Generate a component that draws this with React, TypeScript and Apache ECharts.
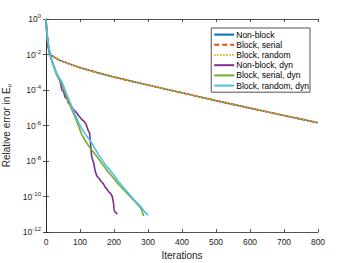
import React, { useEffect, useRef } from "react";
import * as echarts from "echarts";

// Upper curves (Non-block, Block serial, Block random): iterations and log10(error)
const upperIter = [0, 1, 2, 3, 5, 7, 10, 15, 20, 30, 40, 50, 75, 100, 150, 200, 250, 300, 350, 400, 450, 500, 550, 600, 650, 700, 750, 800];
const upperLog = [0, -0.35, -0.65, -0.95, -1.35, -1.65, -1.88, -2.02, -2.1, -2.22, -2.32, -2.4, -2.58, -2.74, -3.02, -3.27, -3.5, -3.72, -3.94, -4.16, -4.38, -4.6, -4.81, -5.02, -5.23, -5.44, -5.64, -5.85];

// Non-block, dyn
const nbDynIter = [0, 2, 5, 10, 15, 20, 28, 35, 41, 47, 52, 56, 62, 66, 72, 76, 81, 86, 91, 96, 101, 106, 111, 116, 120, 125, 128, 130, 133, 135, 140, 145, 150, 155, 160, 165, 169, 175, 180, 185, 189, 195, 199, 200, 202, 205, 210];
const nbDynLog = [0, -0.6, -1.2, -1.9, -2.25, -2.5, -2.9, -3.24, -3.5, -4.0, -4.1, -4.4, -4.5, -4.74, -4.85, -4.95, -5.1, -5.2, -5.3, -5.45, -5.55, -5.67, -5.75, -5.86, -6.05, -6.33, -6.4, -6.8, -7.5, -7.8, -8.1, -8.6, -8.86, -8.95, -9.1, -9.2, -9.3, -9.5, -9.6, -9.75, -9.8, -10.0, -10.45, -10.7, -10.85, -10.9, -11.0];

// Block, serial, dyn
const bsDynIter = [0, 2, 5, 8, 12, 20, 30, 40, 47, 55, 65, 75, 85, 95, 106, 120, 135, 150, 165, 180, 200, 215, 230, 245, 255, 265, 272, 280, 284, 287];
const bsDynLog = [0, -0.6, -1.2, -1.6, -2.0, -2.5, -3.1, -3.45, -3.7, -4.1, -4.6, -5.05, -5.5, -6.0, -6.55, -7.0, -7.4, -7.75, -8.15, -8.55, -9.0, -9.35, -9.65, -9.95, -10.15, -10.35, -10.5, -10.7, -10.9, -11.1];

// Block, random, dyn
const brDynIter = [0, 3, 8, 12, 20, 31, 37, 47, 60, 76, 86, 96, 106, 116, 126, 135, 150, 162, 174, 187, 200, 215, 233, 248, 260, 270, 280, 290, 300];
const brDynLog = [0, -0.8, -1.6, -2.0, -2.5, -3.05, -3.25, -3.55, -4.2, -4.93, -5.4, -5.86, -6.2, -6.5, -6.75, -7.0, -7.5, -7.85, -8.2, -8.5, -8.8, -9.2, -9.6, -9.95, -10.2, -10.4, -10.6, -10.85, -11.05];

const seriesNames = ["Non-block", "Block, serial", "Block, random", "Non-block, dyn", "Block, serial, dyn", "Block, random, dyn"];
const seriesColors = ["#0072BD", "#D95319", "#EDB120", "#7E2F8E", "#77AC30", "#4DBEEE"];

const xTickInterval = 100;
const xMax = 800;
const yMin = 1e-12;
const yMax = 1;

const toPairs = (xs: number[], ls: number[]) => xs.map((x, i) => [x, Math.pow(10, ls[i])]);

export default function App() {
  const ref = useRef<HTMLDivElement>(null);
  useEffect(() => {
    if (!ref.current) return;
    const chart = echarts.init(ref.current, undefined, { renderer: "svg" });
    const font = "Liberation Sans, Arial, sans-serif";
    const axisColor = "#262626";
    const lineTypes: any[] = ["solid", [5, 3], [1.5, 1.5], "solid", "solid", "solid"];
    const datas = [
      toPairs(upperIter, upperLog),
      toPairs(upperIter, upperLog),
      toPairs(upperIter, upperLog),
      toPairs(nbDynIter, nbDynLog),
      toPairs(bsDynIter, bsDynLog),
      toPairs(brDynIter, brDynLog),
    ];
    chart.setOption({
      animation: false,
      textStyle: { fontFamily: font },
      grid: { left: 46, right: 32, top: 19, bottom: 31, outerBoundsMode: "none", containLabel: false },
      legend: {
        orient: "vertical",
        right: 40,
        top: 28,
        itemWidth: 20,
        itemHeight: 8,
        itemGap: 1,
        padding: [2, 1, 2, 2],
        backgroundColor: "#fff",
        borderColor: "#262626",
        borderWidth: 0.8,
        borderRadius: 0,
        itemStyle: { opacity: 0 },
        textStyle: { fontSize: 8.5, color: "#000", fontFamily: font, lineHeight: 9.2, padding: [0, 0, 0, -3] },
        data: seriesNames,
      },
      xAxis: [
        {
          type: "value",
          min: 0,
          max: xMax,
          interval: xTickInterval,
          name: "Iterations",
          nameLocation: "middle",
          nameGap: 17,
          nameTextStyle: { fontSize: 10, color: "#262626", fontFamily: font },
          axisLine: { onZero: false, lineStyle: { color: axisColor, width: 0.8 } },
          axisTick: { inside: true, length: 3, lineStyle: { color: axisColor, width: 0.8 } },
          axisLabel: { fontSize: 8.5, color: "#262626", margin: 5, fontFamily: font },
          splitLine: { show: false },
        },
        {
          type: "value",
          position: "top",
          min: 0,
          max: xMax,
          interval: xTickInterval,
          axisLine: { show: true, lineStyle: { color: axisColor, width: 0.8 } },
          axisTick: { show: true, inside: true, length: 3, lineStyle: { color: axisColor, width: 0.8 } },
          axisLabel: { show: false },
          splitLine: { show: false },
        },
      ],
      yAxis: [
        {
          type: "log",
          logBase: 10,
          min: yMin,
          max: yMax,
          interval: 2,
          name: "{a|Relative error in E}{s|μ}",
          nameLocation: "middle",
          nameRotate: 90,
          nameGap: 32,
          nameTextStyle: {
            fontFamily: font,
            rich: {
              a: { fontSize: 10, color: "#262626", fontFamily: font },
              s: { fontSize: 6, color: "#262626", fontFamily: font, padding: [4, 0, 0, 0] },
            },
          },
          axisLine: { onZero: false, lineStyle: { color: axisColor, width: 0.8 } },
          axisTick: { inside: true, length: 3, lineStyle: { color: axisColor, width: 0.8 } },
          axisLabel: {
            margin: 5,
            fontFamily: font,
            formatter: (v: number) => `{b|10}{e|${Math.round(Math.log10(v))}}`,
            rich: {
              b: { fontSize: 8.5, color: "#262626", fontFamily: font },
              e: { fontSize: 6, color: "#262626", fontFamily: font, padding: [0, 0, 6, 0] },
            },
          },
          splitLine: { show: false },
        },
        {
          type: "log",
          logBase: 10,
          position: "right",
          min: yMin,
          max: yMax,
          interval: 2,
          axisLine: { show: true, lineStyle: { color: axisColor, width: 0.8 } },
          axisTick: { show: true, inside: true, length: 3, lineStyle: { color: axisColor, width: 0.8 } },
          axisLabel: { show: false },
          splitLine: { show: false },
        },
      ],
      series: seriesNames.map((n, i) => ({
        name: n,
        type: "line",
        data: datas[i],
        showSymbol: false,
        symbol: "none",
        color: seriesColors[i],
        lineStyle: { color: seriesColors[i], width: 1.6, type: lineTypes[i] },
        z: 2 + i,
      })),
    });
    return () => chart.dispose();
  }, []);
  return <div ref={ref} style={{ width: 350, height: 263, position: "absolute", left: 0, top: 0 }} />;
}
